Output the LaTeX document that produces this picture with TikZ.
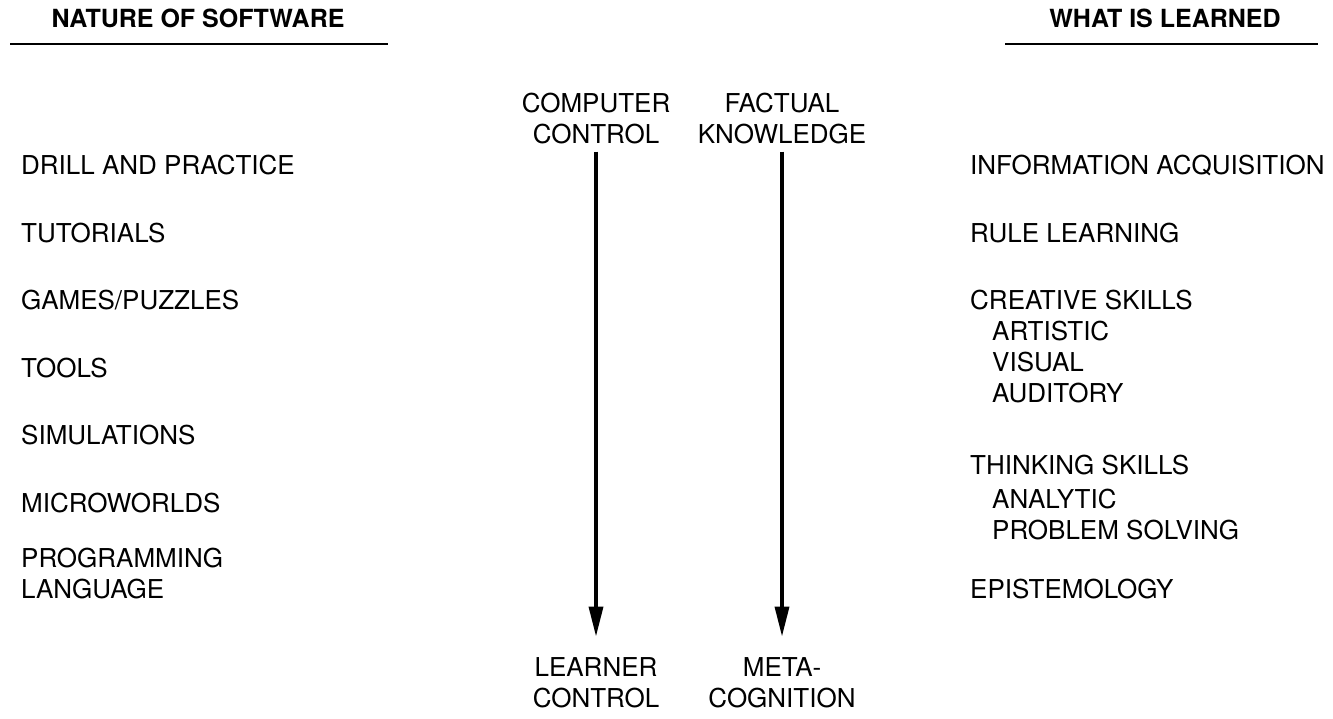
\documentclass[tikz,border=0pt]{standalone}
\usepackage{fontspec}
\setmainfont{TeX Gyre Heros}
\usetikzlibrary{arrows.meta}
\begin{document}
\begin{tikzpicture}[x=1pt,y=-1pt,
  lbl/.style={font=\fontsize{26}{31}\selectfont, inner sep=0pt, anchor=west},
  hdr/.style={font=\bfseries\fontsize{25}{30}\selectfont, inner sep=0pt},
  mid/.style={font=\fontsize{26}{31}\selectfont, inner sep=0pt, align=center},
  flow/.style={line width=3.5pt, -{Triangle[length=30pt,width=14pt]}},
  hrule/.style={line width=2.8pt}]
\useasboundingbox (0,0) rectangle (1333,718);
% headers
\node[hdr] (h1) at (198,18) {NATURE OF SOFTWARE};
\node[hdr] (h2) at (1165,18) {WHAT IS LEARNED};
\draw[hrule] (10,44) -- (388,44);
\draw[hrule] (1005,44) -- (1318,44);
% left column
\node[lbl] (l1) at (21,165) {DRILL AND PRACTICE};
\node[lbl] (l2) at (21,233) {TUTORIALS};
\node[lbl] (l3) at (21,300) {GAMES/PUZZLES};
\node[lbl] (l4) at (21,368) {TOOLS};
\node[lbl] (l5) at (21,435) {SIMULATIONS};
\node[lbl] (l6) at (21,503) {MICROWORLDS};
\node[lbl,align=left] (l7) at (21,574) {PROGRAMMING\\LANGUAGE};
% middle
\node[mid] (cc) at (596,119) {COMPUTER\\CONTROL};
\node[mid] (lc) at (596,683) {LEARNER\\CONTROL};
\node[mid] (fk) at (782,119) {FACTUAL\\KNOWLEDGE};
\node[mid] (mc) at (782,683) {META-\\COGNITION};
\draw[flow, shorten <=7pt, shorten >=21pt] (cc) -- (lc);
\draw[flow, shorten <=7pt, shorten >=21pt] (fk) -- (mc);
% right column
\node[lbl] (r1) at (970,165) {INFORMATION ACQUISITION};
\node[lbl] (r2) at (970,233) {RULE LEARNING};
\node[lbl] (r3) at (970,300) {CREATIVE SKILLS};
\node[lbl,align=left] (r4) at (992,362) {ARTISTIC\\VISUAL\\AUDITORY};
\node[lbl] (r5) at (970,465) {THINKING SKILLS};
\node[lbl,align=left] (r6) at (992,515) {ANALYTIC\\PROBLEM SOLVING};
\node[lbl] (r7) at (970,589) {EPISTEMOLOGY};
\end{tikzpicture}
\end{document}
